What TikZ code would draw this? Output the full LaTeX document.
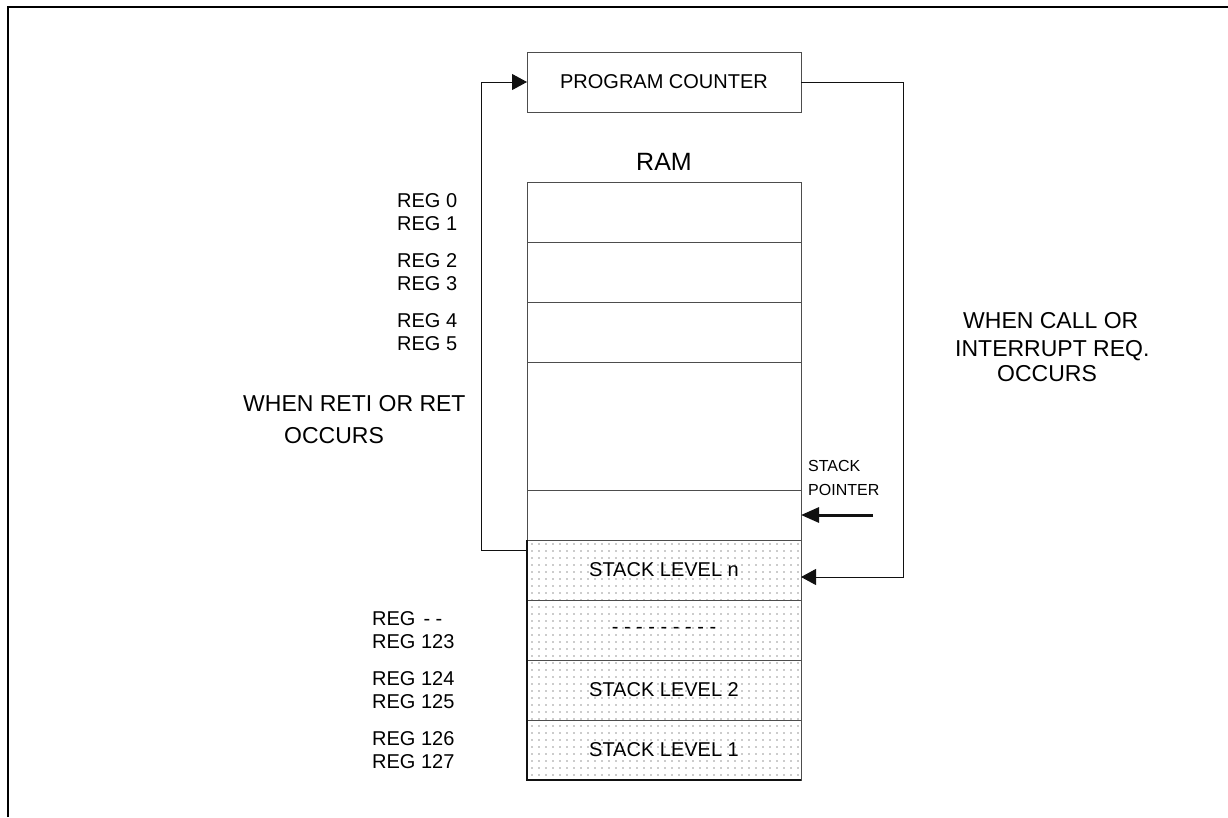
\documentclass[tikz,border=0pt]{standalone}
\usepackage{fontspec}
\setmainfont{Liberation Sans}
\usetikzlibrary{arrows.meta,positioning,calc,patterns.meta}
\definecolor{ink}{HTML}{111111}
\definecolor{rule}{HTML}{4D4D4D}
\definecolor{dotc}{HTML}{222222}
\tikzset{
  cell/.style={draw=rule,line width=1pt,minimum width=274pt,minimum height=60pt,inner sep=0pt,outer sep=0pt,font=\fontsize{20}{23}\selectfont},
  stackcell/.style={cell,pattern={Dots[distance=7pt,radius=0.6pt]},pattern color=dotc},
  reglbl/.style={anchor=west,align=left,inner sep=0pt,font=\fontsize{20}{23}\selectfont},
  note/.style={anchor=north west,align=left,inner sep=0pt,font=\fontsize{23}{32}\selectfont},
  flow/.style={-{Triangle[length=15pt,width=16pt]},line width=1pt,draw=ink},
  spflow/.style={-{Triangle[length=18pt,width=15pt]},line width=3pt,draw=ink},
  frame/.style={line width=2.5pt,draw=black}
}
\begin{document}
\begin{tikzpicture}[x=1pt,y=-1pt,node distance=0pt]
  \useasboundingbox (0,0) rectangle (1228,817);
  \draw[frame] (8,817) -- (8,7) -- (1228,7);
  % program counter and RAM column
  \node[cell] (pc) at (664,82) {PROGRAM COUNTER};
  \node[font=\fontsize{25}{30}\selectfont,inner sep=0pt] (ram) at (664,162) {RAM};
  \node[cell] (r1) at (664,212) {};
  \node[cell,below=of r1] (r2) {};
  \node[cell,below=of r2] (r3) {};
  \node[cell,below=of r3,minimum height=128pt] (r4) {};
  \node[cell,below=of r4,minimum height=50pt] (r5) {};
  \node[stackcell,below=of r5] (r6) {STACK LEVEL n};
  \node[stackcell,below=of r6] (r7) {- - - - - - - - -};
  \node[stackcell,below=of r7] (r8) {STACK LEVEL 2};
  \node[stackcell,below=of r8] (r9) {STACK LEVEL 1};
  \draw[draw=ink,line width=1.8pt] (r6.north west) -- (r9.south west) -- (r9.south east);
  % register labels
  \node[reglbl] (g01) at (397,0 |- r1.center) {REG 0\\REG 1};
  \node[reglbl] (g23) at (397,0 |- r2.center) {REG 2\\REG 3};
  \node[reglbl] (g45) at (397,0 |- r3.center) {REG 4\\REG 5};
  \node[reglbl] (gxx) at (372,0 |- r7.center) {REG\hspace{8pt}- -\\REG 123};
  \node[reglbl] (g124) at (372,0 |- r8.center) {REG 124\\REG 125};
  \node[reglbl] (g126) at (372,0 |- r9.center) {REG 126\\REG 127};
  % notes
  \node[note] (retnote) at (243,395) {WHEN RETI OR RET\\\hspace*{41pt}OCCURS};
  \node[note,font=\fontsize{23}{28}\selectfont] (callnote) at (955,312) {\hspace*{8pt}WHEN CALL OR\\INTERRUPT REQ.\\[-3pt]\hspace*{42pt}OCCURS};
  \node[anchor=north west,align=left,inner sep=0pt,font=\fontsize{16}{24}\selectfont] (splbl) at (808,460) {STACK\\POINTER};
  % loops
  \coordinate (retfrom) at ($(r6.north west)+(0,10)$);
  \draw[flow] (retfrom) -- ++(-46,0) |- (pc.west);
  \coordinate (callto) at ($(r6.east)+(0,7)$);
  \draw[flow] (pc.east) -- ++(102,0) |- (callto);
  \coordinate (spfrom) at ($(r5.east)+(72,0)$);
  \draw[spflow] (spfrom) -- (r5.east);
\end{tikzpicture}
\end{document}
